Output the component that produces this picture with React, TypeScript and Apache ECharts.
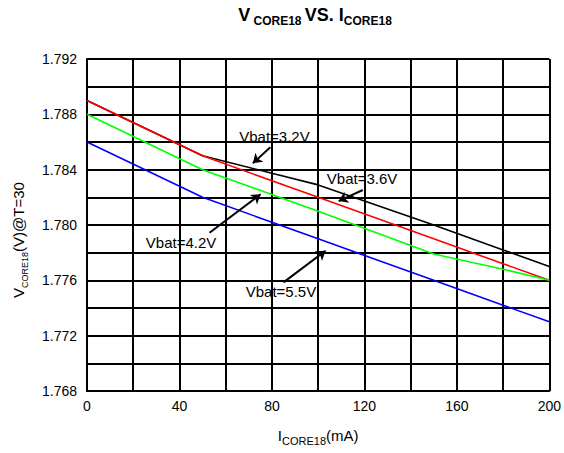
import React, { useEffect, useRef } from "react";
import * as echarts from "echarts";

const currents = [0, 50, 100, 150, 180, 200];
const vbat32 = [1.789, 1.785, 1.7829, 1.78, 1.7782, 1.777];
const vbat36 = [1.789, 1.785, 1.782, 1.779, 1.7772, 1.776];
const vbat42 = [1.788, 1.784, 1.781, 1.7779, 1.7768, 1.776];
const vbat55 = [1.786, 1.782, 1.779, 1.776, 1.7742, 1.773];

const labels = ["Vbat=3.2V", "Vbat=3.6V", "Vbat=4.2V", "Vbat=5.5V"];
const labelPos = [
  [81.1, 1.78643],
  [119, 1.78337],
  [40.7, 1.7787],
  [83.9, 1.77517],
];
const arrowFrom = [
  [79.3, 1.78562],
  [119.3, 1.78253],
  [53.0, 1.77944],
  [85.0, 1.77585],
];
const arrowTo = [
  [71.75, 1.78446],
  [108.9, 1.78173],
  [75.1, 1.78222],
  [103.2, 1.77814],
];

const FONT = "'Liberation Sans', Arial, sans-serif";

export default function App() {
  const ref = useRef<HTMLDivElement>(null);
  useEffect(() => {
    if (!ref.current) return;
    const chart = echarts.init(ref.current, undefined, { renderer: "svg" });
    const mk = (name: string, vals: number[], color: string, extra: any = {}) => ({
      name,
      type: "line",
      data: currents.map((c, i) => [c, vals[i]]),
      showSymbol: false,
      symbol: "none",
      lineStyle: { color, width: 1.6 },
      itemStyle: { color },
      ...extra,
    });
    chart.setOption({
      animation: false,
      textStyle: { fontFamily: FONT },
      title: {
        left: 310,
        textAlign: "center",
        top: -3,
        text: "{a|V}{b| CORE18 }{a|VS. I}{b|CORE18}",
        textStyle: {
          rich: {
            a: { fontSize: 18, fontWeight: "bold", fontFamily: FONT, color: "#000", verticalAlign: "bottom", lineHeight: 22 },
            b: { fontSize: 12, fontWeight: "bold", fontFamily: FONT, color: "#000", verticalAlign: "bottom", lineHeight: 16, padding: [0, 0, -3, 0] },
          },
        },
      },
      graphic: [
        {
          type: "text",
          x: 17,
          y: 240,
          rotation: Math.PI / 2,
          style: {
            text: "{a|V}{b|CORE18}{a|(V)@T=30}",
            align: "center",
            verticalAlign: "middle",
            rich: {
              a: { fontSize: 15, fontFamily: FONT, fill: "#000", color: "#000", verticalAlign: "bottom", lineHeight: 18 },
              b: { fontSize: 9, fontFamily: FONT, fill: "#000", color: "#000", verticalAlign: "bottom", lineHeight: 12, padding: [0, 0, -3, 0] },
            },
          },
        },
      ],
      grid: { left: 87, right: 14, top: 59, bottom: 62 },
      xAxis: {
        type: "value",
        min: 0,
        max: 200,
        interval: 20,
        axisLine: { show: true, lineStyle: { color: "#000", width: 2 } },
        axisTick: { show: false },
        splitLine: { show: true, lineStyle: { color: "#000", width: 2 } },
        axisLabel: {
          color: "#000",
          fontSize: 14,
          fontFamily: FONT,
          margin: 8,
          formatter: (v: number) => (Math.round(v) % 40 === 0 ? String(Math.round(v)) : ""),
        },
        name: "{a|I}{b|CORE18}{a|(mA)}",
        nameLocation: "middle",
        nameGap: 34,
        nameTextStyle: {
          rich: {
            a: { fontSize: 15, fontFamily: FONT, color: "#000", verticalAlign: "bottom", lineHeight: 18 },
            b: { fontSize: 11, fontFamily: FONT, color: "#000", verticalAlign: "bottom", lineHeight: 14, padding: [0, 0, -3, 0] },
          },
        },
      },
      yAxis: {
        type: "value",
        min: 1.768,
        max: 1.792,
        interval: 0.002,
        axisLine: { show: true, lineStyle: { color: "#000", width: 2 } },
        axisTick: { show: false },
        splitLine: { show: true, lineStyle: { color: "#000", width: 2 } },
        axisLabel: {
          color: "#000",
          fontSize: 14,
          fontFamily: FONT,
          margin: 10,
          formatter: (v: number) => {
            const k = Math.round((v - 1.768) * 1000);
            return k % 4 === 0 ? v.toFixed(3) : "";
          },
        },
      },
      series: [
        mk("Vbat=3.2V", vbat32, "#000000", {
          markLine: {
            silent: true,
            symbol: ["none", "arrow"],
            symbolSize: 9,
            label: { show: false },
            lineStyle: { color: "#000", width: 2, type: "solid" },
            data: arrowFrom.map((f, i) => [{ coord: f }, { coord: arrowTo[i] }]),
          },
          markPoint: {
            silent: true,
            symbol: "circle",
            symbolSize: 1,
            itemStyle: { color: "rgba(0,0,0,0)" },
            label: { show: true, position: "inside", color: "#000", fontSize: 15, fontFamily: FONT, formatter: (p: any) => p.name },
            data: labels.map((l, i) => ({ name: l, coord: labelPos[i] })),
          },
        }),
        mk("Vbat=3.6V", vbat36, "#ff0000"),
        mk("Vbat=4.2V", vbat42, "#00ff00"),
        mk("Vbat=5.5V", vbat55, "#0000ff"),
      ],
    });
    return () => chart.dispose();
  }, []);
  return <div ref={ref} style={{ position: "absolute", left: 0, top: 0, width: 564, height: 453 }} />;
}
